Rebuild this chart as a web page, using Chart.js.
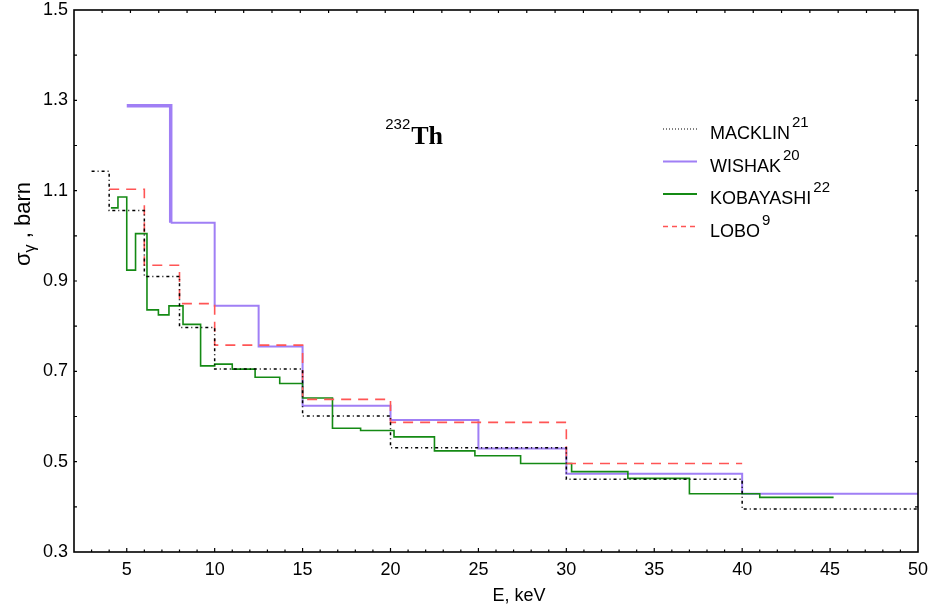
<!DOCTYPE html>
<html>
<head>
<meta charset="utf-8">
<script src="https://cdn.jsdelivr.net/npm/chart.js@4.4.1/dist/chart.umd.min.js"></script>
<style>
  body { margin: 0; background: #fff; }
  canvas { display: block; }
</style>
</head>
<body>
<canvas id="chart" width="933" height="611"></canvas>
<script>
// step edges (keV) and the cross-section value on each step (barn)
const macklinEdges = [3, 4, 6, 8, 10, 15, 20, 30, 40, 50]
const macklinValues = [1.143, 1.056, 0.910, 0.797, 0.705, 0.601, 0.531, 0.461, 0.395]

const wishakEdges = [5, 7.5, 10, 12.5, 15, 20, 25, 30, 40, 50]
const wishakValues = [1.288, 1.029, 0.845, 0.755, 0.624, 0.592, 0.529, 0.473, 0.429]

const kobayashiEdges = [4.1, 4.5, 5.0, 5.5, 6.15, 6.8, 7.4, 8.2, 9.2, 10.0, 11.0, 12.3, 13.7,
    15.0, 16.7, 18.3, 20.2, 22.5, 24.8, 27.4, 30.3, 33.5, 37.0, 41.0, 45.2]
const kobayashiValues = [1.062, 1.086, 0.924, 1.005, 0.836, 0.825, 0.845, 0.804, 0.712, 0.716,
    0.705, 0.687, 0.673, 0.641, 0.574, 0.569, 0.555, 0.524, 0.513, 0.496, 0.478, 0.463, 0.429, 0.421]

const loboEdges = [4, 6, 8, 10, 15, 20, 30, 40]
const loboValues = [1.103, 0.935, 0.850, 0.758, 0.638, 0.587, 0.496]

const seriesNames = ['MACKLIN', 'WISHAK', 'KOBAYASHI', 'LOBO']
const seriesRefs = ['21', '20', '22', '9']

const xTicks = [5, 10, 15, 20, 25, 30, 35, 40, 45, 50]
const yTicks = [0.3, 0.5, 0.7, 0.9, 1.1, 1.3, 1.5]

const isotopeMass = '232'
const isotopeName = 'Th'
const isotopeLabelAt = [19.7, 1.203]

// histogram -> points for stepped 'before' lines
function steps(edges, values) {
    let pts = []
    for (let i = 0; i < values.length; i++) pts.push({x: edges[i], y: values[i]})
    pts.push({x: edges[edges.length - 1], y: values[values.length - 1]})
    return pts
}

const sans = 'Liberation Sans, Arial, sans-serif'
const tickFont = {family: sans, size: 18}

const decor = {
    id: 'decor',
    afterDraw(chart) {
        const c = chart.ctx
        const a = chart.chartArea
        const xs = chart.scales.x
        const ys = chart.scales.y
        c.save()
        c.strokeStyle = '#000'
        c.lineWidth = 1.6
        c.strokeRect(a.left, a.top, a.right - a.left, a.bottom - a.top)

        // inward tick marks
        c.lineWidth = 1.2
        c.beginPath()
        for (let e = 3; e <= 49; e++) {
            let px = xs.getPixelForValue(e)
            let len = e % 5 === 0 ? 4 : 2.5
            c.moveTo(px, a.bottom); c.lineTo(px, a.bottom - len)
        }
        for (let e = 3.6; e < 50; e += 1.61) {
            let px = xs.getPixelForValue(e)
            c.moveTo(px, a.top); c.lineTo(px, a.top + 3)
        }
        for (let k = 4; k <= 14; k++) {
            let py = ys.getPixelForValue(k / 10)
            c.moveTo(a.left, py); c.lineTo(a.left + 3, py)
            c.moveTo(a.right, py); c.lineTo(a.right - 3, py)
        }
        c.stroke()

        // x axis title
        c.fillStyle = '#000'
        c.font = '18px ' + sans
        c.textAlign = 'center'
        c.textBaseline = 'alphabetic'
        c.fillText('E, keV', 519, 601)
        c.textAlign = 'left'

        // y axis title: sigma_gamma , barn
        c.translate(30, 224)
        c.rotate(-Math.PI / 2)
        const big = '22px ' + sans
        const small = '16px ' + sans
        c.font = big
        let w1 = c.measureText('σ').width
        let w3 = c.measureText(' , barn').width
        c.font = small
        let w2 = c.measureText('γ').width
        let x0 = -(w1 + w2 + w3) / 2
        c.font = big
        c.fillText('σ', x0, 0)
        c.font = small
        c.fillText('γ', x0 + w1, 5)
        c.font = big
        c.fillText(' , barn', x0 + w1 + w2, 0)
        c.restore()

        // isotope label
        c.save()
        c.fillStyle = '#000'
        let lx = xs.getPixelForValue(isotopeLabelAt[0])
        let ly = ys.getPixelForValue(isotopeLabelAt[1])
        c.font = '15px ' + sans
        c.fillText(isotopeMass, lx, ly - 15)
        let mw = c.measureText(isotopeMass).width
        c.font = 'bold 26px Liberation Serif, Times New Roman, serif'
        c.fillText(isotopeName, lx + mw + 1, ly)

        // legend
        chart.data.datasets.forEach((ds, i) => {
            let rowY = 129 + i * 32.5
            c.strokeStyle = ds.borderColor
            c.lineWidth = ds.legendWidth
            c.setLineDash(ds.legendDash)
            c.beginPath()
            c.moveTo(663, rowY); c.lineTo(697, rowY)
            c.stroke()
            c.setLineDash([])
            c.fillStyle = '#000'
            c.font = '18px ' + sans
            c.fillText(seriesNames[i], 710, rowY + 10)
            let tw = c.measureText(seriesNames[i]).width
            c.font = '15px ' + sans
            c.fillText(seriesRefs[i], 710 + tw + 2, rowY - 2)
        })
        c.restore()
    }
}

new Chart(document.getElementById('chart'), {
    type: 'line',
    data: {
        datasets: [{
            label: 'MACKLIN',
            data: steps(macklinEdges, macklinValues),
            borderColor: '#000000',
            borderWidth: 1.5,
            borderDash: [3, 3, 1, 3],
            legendDash: [1, 2],
            legendWidth: 1.2,
            order: 0
        }, {
            label: 'WISHAK',
            data: steps(wishakEdges, wishakValues),
            borderColor: '#a07ff5',
            borderWidth: 2,
            legendDash: [],
            legendWidth: 2,
            segment: {
                borderWidth: ctx => ctx.p0DataIndex === 0 ? 3.5 : 2
            },
            order: 3
        }, {
            label: 'KOBAYASHI',
            data: steps(kobayashiEdges, kobayashiValues),
            borderColor: '#148a14',
            borderWidth: 1.6,
            legendDash: [],
            legendWidth: 2,
            order: 2
        }, {
            label: 'LOBO',
            data: steps(loboEdges, loboValues),
            borderColor: '#ff5555',
            borderWidth: 1.6,
            borderDash: [10, 7],
            legendDash: [5, 4],
            legendWidth: 1.4,
            order: 1
        }]
    },
    options: {
        responsive: false,
        animation: false,
        layout: {padding: {top: 10, right: 15, left: 0, bottom: 0}},
        elements: {
            line: {stepped: 'before', fill: false, borderCapStyle: 'butt'},
            point: {radius: 0, hoverRadius: 0}
        },
        plugins: {legend: {display: false}, tooltip: {enabled: false}},
        scales: {
            x: {
                type: 'linear',
                min: 2,
                max: 50,
                grid: {display: false, drawTicks: false},
                border: {display: false},
                afterBuildTicks: s => { s.ticks = xTicks.map(v => ({value: v})) },
                afterFit: s => { s.height = 59; s.paddingLeft = 0; s.paddingRight = 0 },
                ticks: {color: '#000', font: tickFont, padding: 7, maxRotation: 0}
            },
            y: {
                min: 0.3,
                max: 1.5,
                grid: {display: false, drawTicks: false},
                border: {display: false},
                afterBuildTicks: s => { s.ticks = yTicks.map(v => ({value: v})) },
                afterFit: s => { s.width = 74; s.paddingTop = 0; s.paddingBottom = 0 },
                ticks: {
                    color: '#000',
                    font: tickFont,
                    padding: 6,
                    callback: v => v.toFixed(1)
                }
            }
        }
    },
    plugins: [decor]
})
</script>
</body>
</html>
